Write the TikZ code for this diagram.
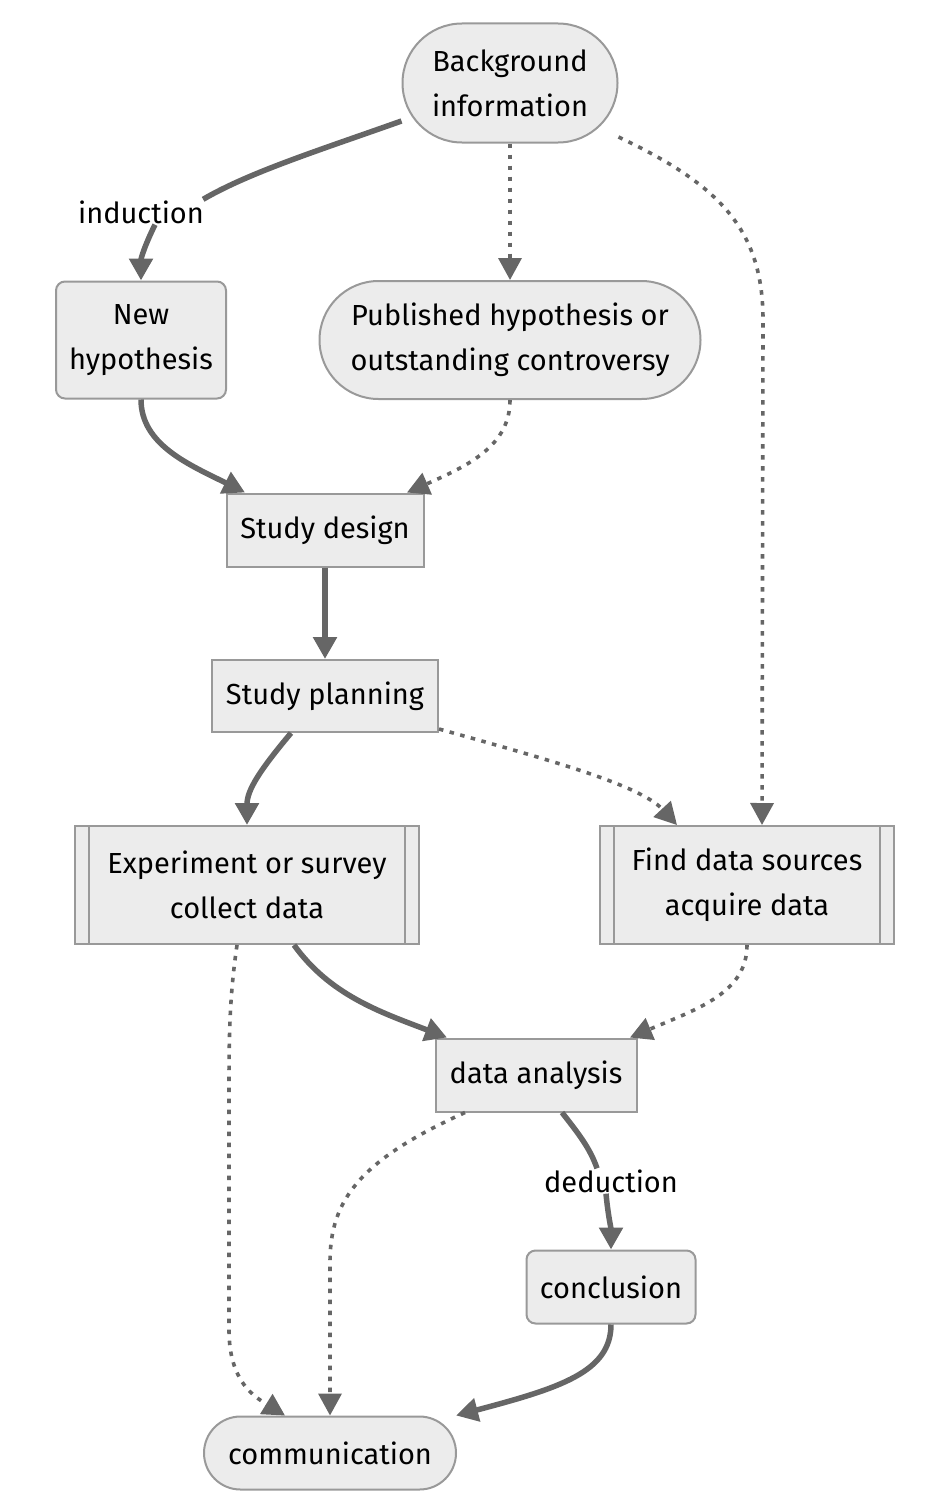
\documentclass[tikz,border=0pt]{standalone}
\usepackage{fontspec}
\setmainfont{Fira Sans}
\usetikzlibrary{arrows.meta,shapes.misc}
\definecolor{edgegray}{HTML}{666666}
\definecolor{nodefill}{HTML}{ECECEC}
\definecolor{nodeline}{HTML}{999999}

\begin{document}
\begin{tikzpicture}[x=1pt,y=-1pt,
        base/.style={draw=nodeline, fill=nodefill, line width=2pt,
                        align=center, inner sep=0pt,
                        font=\fontsize{29}{45}\selectfont},
        box/.style={base, rectangle},
        rbox/.style={base, rectangle, rounded corners=9pt},
        pill/.style={base, rounded rectangle},
        lbl/.style={fill=white, inner sep=1pt,
                        font=\fontsize{29}{32}\selectfont},
        flow/.style={draw=edgegray, line width=5.5pt,
                        -{Triangle[length=22pt,width=23pt]}},
        hint/.style={draw=edgegray, line width=3.6pt,
                        dash pattern=on 4.5pt off 6.5pt,
                        -{Triangle[length=22pt,width=23pt]}}]
    \useasboundingbox (0,0) rectangle (940,1512);

    % nodes
    \node[pill, minimum width=215pt, minimum height=119pt] (bg) at (510,83) {Background\\information};
    \node[rbox, minimum width=170pt, minimum height=117pt] (newh) at (141,340) {New\\hypothesis};
    \node[pill, minimum width=381pt, minimum height=118pt] (pub) at (510,340) {Published hypothesis or\\outstanding controversy};
    \node[box, minimum width=197pt, minimum height=73pt] (sd) at (325,530) {Study design};
    \node[box, minimum width=226pt, minimum height=72pt] (sp) at (325,696) {Study planning};
    \node[box, minimum width=344pt, minimum height=118pt] (exp) at (247,885) {Experiment or survey\\collect data};
    \node[box, minimum width=294pt, minimum height=118pt] (find) at (747,885) {Find data sources\\acquire data};
    \node[box, minimum width=201pt, minimum height=73pt] (da) at (536,1075) {data analysis};
    \node[rbox, minimum width=169pt, minimum height=73pt] (concl) at (611,1287) {conclusion};
    \node[pill, minimum width=252pt, minimum height=73pt] (comm) at (330,1453) {communication};
    \foreach \n in {exp,find} {
        \draw[draw=nodeline, line width=2pt]
            ([xshift=15pt]\n.north west) -- ([xshift=15pt]\n.south west)
            ([xshift=-15pt]\n.north east) -- ([xshift=-15pt]\n.south east);
    }

    % edge labels
    \node[lbl] (ind) at (141,212) {induction};
    \node[lbl] (ded) at (611,1181) {deduction};

    % solid edges
    \draw[flow, -] ([yshift=-38pt]bg.west) .. controls (320,150) and (250,172) .. ([xshift=-2pt]ind.north east);
    \draw[flow] ([xshift=14pt]ind.south) .. controls (145,245) and (141,258) .. (newh.north);
    \draw[flow] (newh.south) .. controls (141,445) and (190,465) .. ([xshift=-80pt]sd.north);
    \draw[flow] (sd.south) -- (sp.north);
    \draw[flow] ([xshift=-34pt]sp.south) .. controls (260,770) and (247,790) .. (exp.north);
    \draw[flow] ([xshift=47pt]exp.south) .. controls (330,995) and (380,1012) .. ([xshift=-89pt]da.north);
    \draw[flow, -] ([xshift=26pt]da.south) .. controls (578,1133) and (590,1148) .. ([xshift=-14pt]ded.north);
    \draw[flow] ([xshift=-5pt]ded.south) .. controls (608,1215) and (611,1228) .. (concl.north);
    \draw[flow] (concl.south) .. controls (611,1372) and (560,1388) .. ([xshift=126pt]comm.north);

    % dotted edges
    \draw[hint] (bg.south) -- (pub.north);
    \draw[hint] ([yshift=-54pt]bg.east) .. controls (720,185) and (763,230) .. (763,320) -- ([xshift=15pt]find.north);
    \draw[hint] (pub.south) .. controls (510,445) and (470,465) .. ([xshift=82pt]sd.north);
    \draw[hint] ([yshift=4pt]sp.south east) .. controls (550,760) and (640,785) .. ([xshift=-70pt]find.north);
    \draw[hint] (find.south) .. controls (747,992) and (700,1008) .. ([xshift=94pt]da.north);
    \draw[hint] ([xshift=-10pt]exp.south) .. controls (229,1000) and (229,1040) .. (229,1100) -- (229,1330) .. controls (229,1382) and (255,1397) .. ([xshift=-45pt]comm.north);
    \draw[hint] ([xshift=-71pt]da.south) .. controls (360,1160) and (330,1200) .. (330,1262) -- (comm.north);
\end{tikzpicture}
\end{document}
